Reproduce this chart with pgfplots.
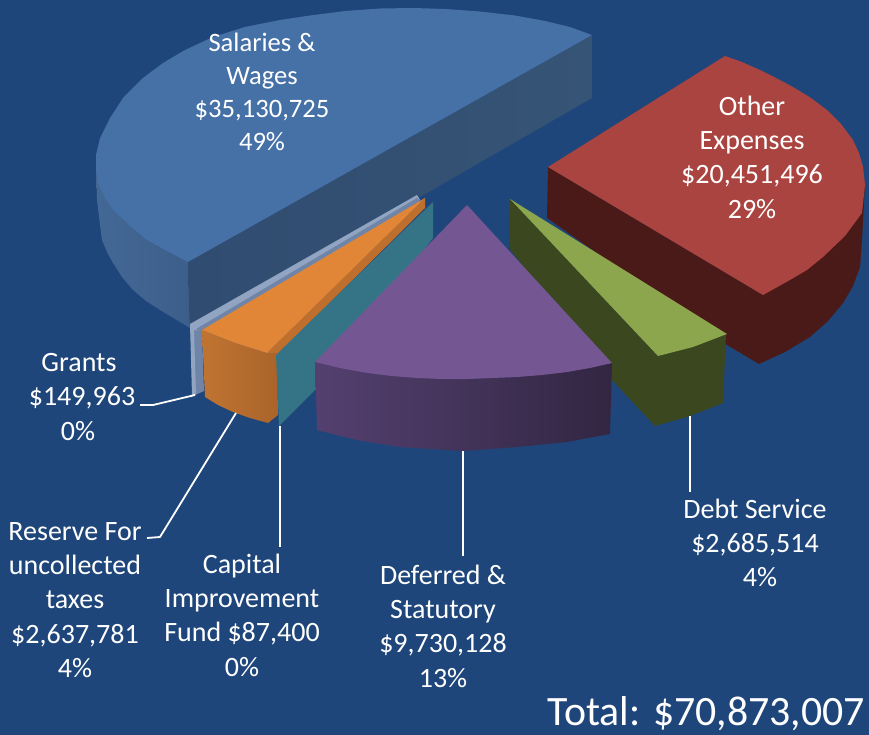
\documentclass[border=0pt]{standalone}
\usepackage{fontspec}
\setmainfont{Carlito}
\usepackage{pgfplots}
\pgfplotsset{compat=1.18}
\definecolor{bg}{RGB}{31,70,122}
\definecolor{bluetop}{RGB}{69,113,167}
\definecolor{bluewallA}{RGB}{68,104,150}
\definecolor{bluewallB}{RGB}{60,94,138}
\definecolor{bluewallC}{RGB}{48,76,112}
\definecolor{bluewallD}{RGB}{54,84,118}
\definecolor{redtop}{RGB}{170,68,64}
\definecolor{redwall}{RGB}{74,26,24}
\definecolor{graytop}{RGB}{145,165,195}
\definecolor{graywall}{RGB}{112,132,168}
\definecolor{orangetop}{RGB}{224,134,54}
\definecolor{orangeside}{RGB}{190,110,45}
\definecolor{orangeA}{RGB}{192,116,50}
\definecolor{orangeB}{RGB}{170,100,42}
\definecolor{teal}{RGB}{52,116,134}
\definecolor{purpletop}{RGB}{116,86,146}
\definecolor{purpleA}{RGB}{84,64,112}
\definecolor{purpleB}{RGB}{50,38,66}
\definecolor{greentop}{RGB}{139,166,76}
\definecolor{greenwall}{RGB}{58,71,31}
\begin{document}
\begin{tikzpicture}
\begin{axis}[
  scale only axis, width=869pt, height=735pt,
  xmin=0, xmax=869, ymin=0, ymax=735, y dir=reverse,
  axis lines=none, clip=true,
  every axis plot/.append style={forget plot, draw=none, mark=none, line join=round},
]
% background
\addplot[fill=bg] coordinates {(0,0)(869,0)(869,735)(0,735)} --cycle;
% Salaries & Wages
\addplot[left color=bluewallA, right color=bluewallB] coordinates {(96,155)(97,200)(100,225)(102,240)(107,252)(113,263)(122,277)(133,290)(146,301)(160,310)(175,319)(190,328)(188,262)(120,200)} --cycle;
\addplot[left color=bluewallC, right color=bluewallD] coordinates {(188,262)(592,35)(592,98)(420,197)(190,328)} --cycle;
\addplot[fill=bluetop] coordinates {(592,35)(570,27)(545,21)(515,15.5)(480,11.5)(445,9)(413,8)(380,8.5)(345,11)(310,15.5)(280,20)(245,27)(213,37)(185,50)(163,63)(143,78)(123,98)(110,118)(100,138)(96,155)(96,168)(98,183)(105,198)(113,210)(128,224)(147,240)(167,251)(188,262)} --cycle;
% Other Expenses
\addplot[fill=redwall] coordinates {(548,167)(547,218)(727,345)(759,364)(785,352)(810,337)(828,321)(843,303)(853,286)(860,267)(862,240)(865,183)(763,295)} --cycle;
\addplot[fill=redtop] coordinates {(548,167)(725,56)(742,62)(760,70)(776,78)(793,87)(811,98)(827,110)(841,124)(853,140)(859,153)(863,167)(865,185)(862,213)(845,236)(823,257)(807,270)(790,280)(763,295)} --cycle;
% Grants
\addplot[fill=graywall] coordinates {(190,325)(195,395)(204,391)(202,330)} --cycle;
\addplot[fill=graytop] coordinates {(190,324)(417,195)(420,200)(202,331)(194,330)(196,395)(192,395)} --cycle;
\addplot[fill=graywall] coordinates {(196,329)(417,198)(420,201)(202,333)} --cycle;
% Reserve
\addplot[fill=orangeside] coordinates {(267,353)(425,198)(425,208)(277,355)} --cycle;
\addplot[left color=orangeA, right color=orangeB] coordinates {(202,330)(205,397)(218,405)(233,412)(250,418)(268,423)(278,415)(277,353)(267,353)(235,343)} --cycle;
\addplot[fill=orangetop] coordinates {(425,198)(202,330)(235,343)(267,353)} --cycle;
% Capital Improvement Fund
\addplot[fill=teal] coordinates {(276,355)(433,202)(433,238)(317,388)(279,426)} --cycle;
% Debt Service
\addplot[fill=greenwall] coordinates {(510,199)(509,248)(612,380)(655,426)(690,416)(723,403)(726,334)(658,356)} --cycle;
\addplot[fill=greentop] coordinates {(510,199)(727,334)(693,347)(658,356)} --cycle;
% Deferred & Statutory
\addplot[left color=purpleA, right color=purpleB] coordinates {(315,362)(367,373)(417,378)(467,379)(517,377)(567,372)(612,363)(610,434)(567,442)(517,447)(463,451)(400,447)(357,440)(317,430)} --cycle;
\addplot[fill=purpletop] coordinates {(467,205)(315,362)(340,368)(367,373)(392,376)(417,378)(442,379)(467,379)(492,378)(517,377)(542,375)(567,372)(590,368)(612,363)} --cycle;
% leader lines
\addplot[draw=white, line width=1.8pt] coordinates {(140,405)(153,405)(195,395)};
\addplot[draw=white, line width=1.8pt] coordinates {(147,538)(160,537)(236,413)};
\addplot[draw=white, line width=1.8pt] coordinates {(280,426)(280,547)};
\addplot[draw=white, line width=1.8pt] coordinates {(463,451)(463,556)};
\addplot[draw=white, line width=1.8pt] coordinates {(690,416)(690,492)};
% labels
\tikzset{lab/.style={text=white, align=center, inner sep=0pt, font=\fontsize{28}{34.3}\selectfont}}
\node[lab, font=\fontsize{26.6}{33}\selectfont] at (axis cs:262,92) {Salaries \&\\Wages\\\$35,130,725\\49\%};
\node[lab] at (axis cs:752,157) {Other\\Expenses\\\$20,451,496\\29\%};
\node[lab] at (axis cs:82,397) {\hspace*{-6pt}Grants\\\$149,963\\\hspace*{-8pt}0\%};
\node[lab] at (axis cs:75,600) {Reserve For\\uncollected\\taxes\\\$2,637,781\\4\%};
\node[lab] at (axis cs:242,615) {Capital\\Improvement\\Fund \$87,400\\0\%};
\node[lab] at (axis cs:443,626) {Deferred \&\\Statutory\\\$9,730,128\\13\%};
\node[lab] at (axis cs:755,543) {Debt Service\\\$2,685,514\\\hspace*{10pt}4\%};
\node[text=white, inner sep=0pt, anchor=base east, font=\fontsize{41.8}{48}\selectfont] at (axis cs:865,725.5) {Total: \$70,873,007};
\end{axis}
\end{tikzpicture}
\end{document}
